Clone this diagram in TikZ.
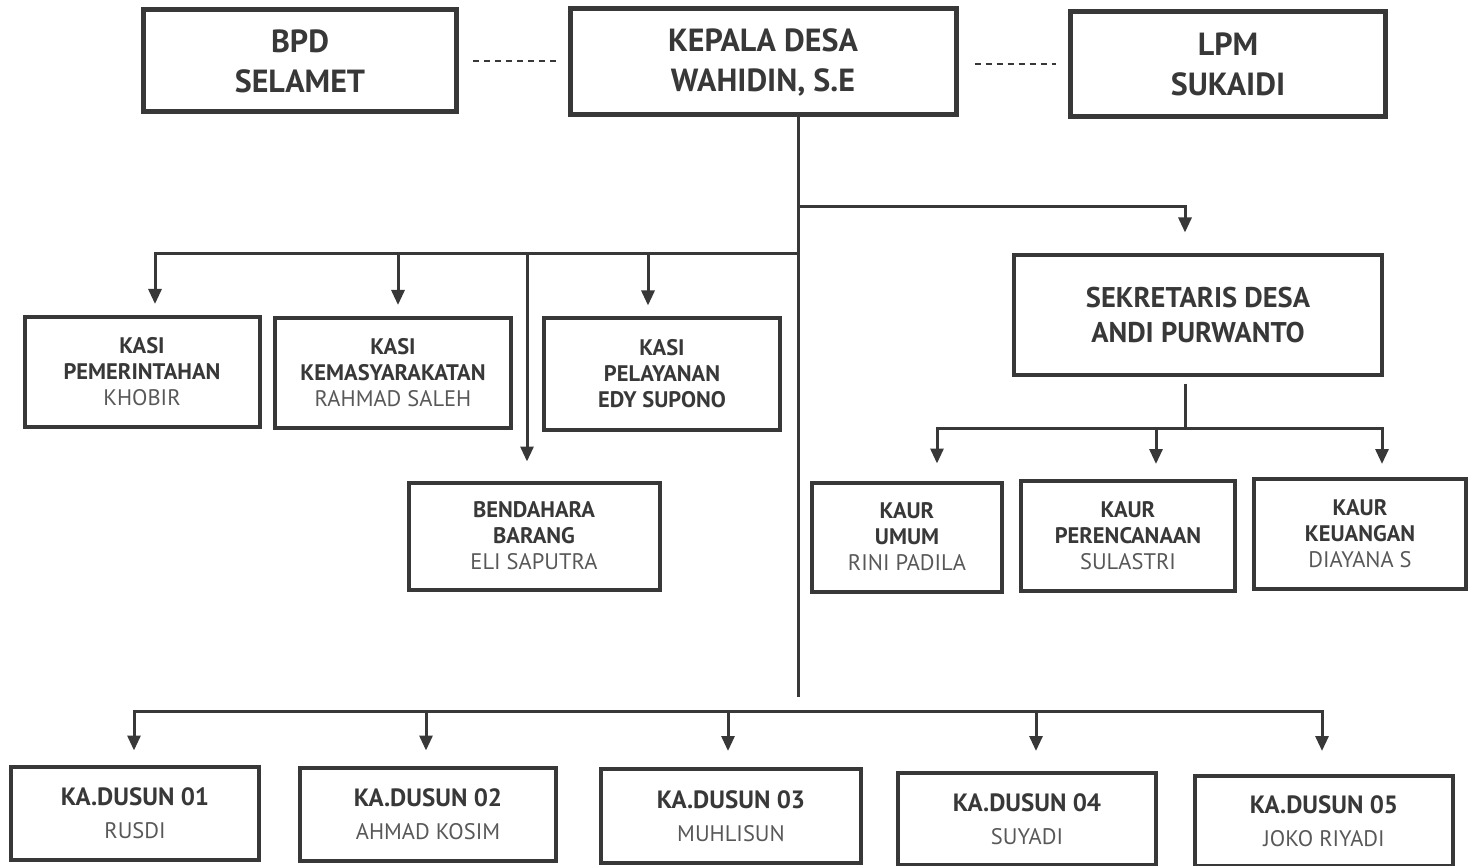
\documentclass[tikz,border=0pt]{standalone}
\usepackage{fontspec}
\setmainfont{PT Sans}
\usetikzlibrary{positioning}
\usetikzlibrary{arrows.meta}

\definecolor{inkgray}{HTML}{383838}
\definecolor{softgray}{HTML}{585858}

\newcommand{\headfont}{\fontsize{32}{40}\selectfont\bfseries}
\newcommand{\sekfont}{\fontsize{28.5}{35}\selectfont\bfseries}
\newcommand{\staffont}{\fontsize{22.5}{26}\selectfont\bfseries}
\newcommand{\dusunfont}{\fontsize{25}{33}\selectfont\bfseries}
\newcommand{\plainname}[1]{{\mdseries\color{softgray}#1}}
\newcommand{\dusunname}[1]{{\fontsize{22.5}{33}\selectfont\mdseries\color{softgray}#1}}

\tikzset{
	unit/.style = {draw = inkgray, line width = 4pt, inner sep = 0pt, align = center, text = inkgray},
	link/.style = {draw = inkgray, line width = 3pt},
	arrow/.style = {link, -{Triangle[width = 13pt, length = 15pt]}},
	relation/.style = {draw = inkgray, line width = 1.5pt, dash pattern = on 6pt off 5pt}
}

\begin{document}
\begin{tikzpicture}[x = 1pt, y = -1pt]
				\useasboundingbox (0, 0) rectangle (1477, 866);
				% top row
				\node[unit, line width = 5pt, minimum width = 313pt, minimum height = 102pt, font = \headfont] (bpd) at (300, 61) {BPD\\SELAMET};
				\node[unit, line width = 5pt, minimum width = 386pt, minimum height = 106pt, font = \headfont] (kades) at (763, 62) {KEPALA DESA\\WAHIDIN, S.E};
				\node[unit, line width = 5pt, minimum width = 315pt, minimum height = 105pt, font = \headfont] (lpm) at (1228, 64) {LPM\\SUKAIDI};
				\draw[relation, shorten < = 14pt, shorten > = 12pt] (bpd.east) -- (bpd.east -| kades.west);
				\draw[relation, shorten < = 16pt, shorten > = 12pt] (kades.east |- lpm.west) -- (lpm.west);
				% kasi row
				\node[unit, minimum width = 235pt, minimum height = 110pt, font = \staffont] (pemerintahan) at (142, 372) {KASI\\PEMERINTAHAN\\\plainname{KHOBIR}};
				\node[unit, minimum width = 236pt, minimum height = 110pt, font = \staffont] (kemasyarakatan) at (393, 373) {KASI\\KEMASYARAKATAN\\\plainname{RAHMAD SALEH}};
				\node[unit, minimum width = 236pt, minimum height = 111pt, font = \staffont] (pelayanan) at (662, 374) {KASI\\PELAYANAN\\EDY SUPONO};
				\node[unit, minimum width = 251pt, minimum height = 107pt, font = \staffont] (bendahara) at (534, 536) {BENDAHARA\\BARANG\\\plainname{ELI SAPUTRA}};
				% sekretaris and kaur
				\node[unit, minimum width = 368pt, minimum height = 119pt, font = \sekfont] (sekdes) at (1198, 315) {SEKRETARIS DESA\\ANDI PURWANTO};
				\node[unit, minimum width = 190pt, minimum height = 109pt, font = \staffont] (umum) at (907, 537) {KAUR\\UMUM\\\plainname{RINI PADILA}};
				\node[unit, minimum width = 214pt, minimum height = 110pt, font = \staffont] (perencanaan) at (1128, 536) {KAUR\\PERENCANAAN\\\plainname{SULASTRI}};
				\node[unit, minimum width = 212pt, minimum height = 110pt, font = \staffont] (keuangan) at (1360, 534) {KAUR\\KEUANGAN\\\plainname{DIAYANA S}};
				% dusun row
				\node[unit, minimum width = 248pt, minimum height = 93pt, font = \dusunfont] (dusun1) at (135, 813) {KA.DUSUN 01\\\dusunname{RUSDI}};
				\node[unit, minimum width = 256pt, minimum height = 93pt, font = \dusunfont] (dusun2) at (428, 814) {KA.DUSUN 02\\\dusunname{AHMAD KOSIM}};
				\node[unit, minimum width = 260pt, minimum height = 94pt, font = \dusunfont] (dusun3) at (731, 816) {KA.DUSUN 03\\\dusunname{MUHLISUN}};
				\node[unit, minimum width = 258pt, minimum height = 92pt, font = \dusunfont] (dusun4) at (1027, 819) {KA.DUSUN 04\\\dusunname{SUYADI}};
				\node[unit, minimum width = 258pt, minimum height = 90pt, font = \dusunfont] (dusun5) at (1324, 821) {KA.DUSUN 05\\\dusunname{JOKO RIYADI}};
				% junctions
				\coordinate (jsek) at (798, 207);
				\coordinate (jkasi) at (798, 254);
				\coordinate (trunkend) at (798, 697);
				\coordinate (jkaur) at (1185, 428);
				\coordinate (jdusun) at (798, 711);
				% connectors
				\draw[link] (kades.south -| trunkend) -- (trunkend);
				\draw[arrow] (jsek) -| ([xshift = -13pt, yshift = 21pt]sekdes.north);
				\draw[arrow] (jkasi) -| ([xshift = 13pt, yshift = 11pt]pemerintahan.north);
				\draw[arrow] (jkasi) -| ([xshift = 5pt, yshift = 11pt]kemasyarakatan.north);
				\draw[arrow] (jkasi) -| ([xshift = -7pt, yshift = 19pt]bendahara.north);
				\draw[arrow] (jkasi) -| ([xshift = -14pt, yshift = 11pt]pelayanan.north);
				\draw[link] ([yshift = -7pt]sekdes.south -| jkaur) -- (jkaur);
				\draw[arrow] (jkaur) -| ([xshift = 30pt, yshift = 17pt]umum.north);
				\draw[arrow] (jkaur) -| ([xshift = 28pt, yshift = 15pt]perencanaan.north);
				\draw[arrow] (jkaur) -| ([xshift = 22pt, yshift = 13pt]keuangan.north);
				\draw[arrow] (jdusun) -| ([xshift = -1pt, yshift = 14pt]dusun1.north);
				\draw[arrow] (jdusun) -| ([xshift = -2pt, yshift = 15pt]dusun2.north);
				\draw[arrow] (jdusun) -| ([xshift = -3pt, yshift = 16pt]dusun3.north);
				\draw[arrow] (jdusun) -| ([xshift = 9pt, yshift = 20pt]dusun4.north);
				\draw[arrow] (jdusun) -| ([xshift = -2pt, yshift = 23pt]dusun5.north);
			\end{tikzpicture}
\end{document}
